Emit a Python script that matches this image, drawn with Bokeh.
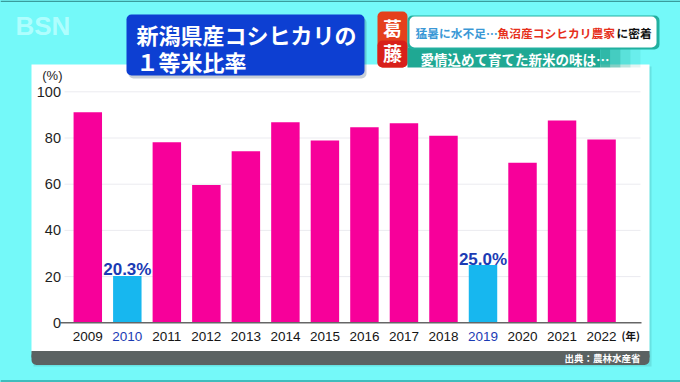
from bokeh.plotting import figure
from bokeh.models import Range1d, ColumnDataSource, Quad
from bokeh.core.properties import value
from bokeh.embed import file_html
from bokeh.resources import INLINE

# ---------------- data ----------------
years = [2009, 2010, 2011, 2012, 2013, 2014, 2015, 2016, 2017, 2018, 2019, 2020, 2021, 2022]
ratios = [91.2, 20.3, 78.2, 59.6, 74.3, 86.8, 78.9, 84.7, 86.4, 81.0, 25.0, 69.3, 87.6, 79.4]
highlight_years = [2010, 2019]
highlight_labels = ["20.3%", "25.0%"]
y_ticks = [0, 20, 40, 60, 80, 100]
y_tick_labels = ["0", "20", "40", "60", "80", "100"]
year_labels = [str(y) for y in years]

title_lines = ["新潟県産コシヒカリの", "１等米比率"]
tag_chars = ["葛", "藤"]
headline_parts = ["猛暑に水不足…", "魚沼産コシヒカリ農家", "に密着"]
subline = "愛情込めて育てた新米の味は…"
source_text = "出典：農林水産省"

# ---------------- styles ----------------
CYAN = "#74f9f9"
MAGENTA = "#f7009a"
SKY = "#17b7ef"
HL_TEXT = "#1b3bb4"
JP = value("Noto Sans CJK JP")
LAT = value("Liberation Sans")

W, H = 680, 382
OFF = 0
X_PITCH = 39.52
X_2009 = 87.3
Y_SCALE = 2.31
Y_ZERO = 322.3

x_start = 2009 - (X_2009 - OFF) / X_PITCH
x_end = x_start + W / X_PITCH
y_end = (Y_ZERO - OFF) / Y_SCALE
y_start = y_end - H / Y_SCALE


def dx(X):
    return x_start + (X - OFF) / X_PITCH


def dy(Y):
    return y_end - (Y - OFF) / Y_SCALE


p = figure(width=W, height=H, x_range=Range1d(x_start, x_end), y_range=Range1d(y_start, y_end),
           output_backend="svg", toolbar_location=None, min_border=0,
           x_axis_location=None, y_axis_location=None,
           background_fill_color=CYAN, border_fill_color=CYAN, outline_line_color=None)
for g in p.grid:
    g.visible = False

rad = {"border_radius": 5} if "border_radius" in Quad.properties() else {}

# top & bottom teal lines
p.quad(left=[dx(0)], right=[dx(680)], top=[dy(0)], bottom=[dy(1.5)], fill_color="#3a9c9c", line_color=None)
p.quad(left=[dx(0)], right=[dx(680)], top=[dy(379.5)], bottom=[dy(382)], fill_color="#3fbdbd", line_color=None)

# white panel with light shadow
p.quad(left=[dx(33)], right=[dx(651)], top=[dy(66)], bottom=[dy(366)], fill_color="#40a0a0", fill_alpha=0.25, line_color=None)
p.quad(left=[dx(31)], right=[dx(649)], top=[dy(64)], bottom=[dy(351)], fill_color="white", line_color=None)
# gray strip
p.quad(left=[dx(31)], right=[dx(649)], top=[dy(350.5)], bottom=[dy(364.5)], fill_color="#5b6262", line_color=None, **rad)
p.quad(left=[dx(31)], right=[dx(649)], top=[dy(350.5)], bottom=[dy(357)], fill_color="#5b6262", line_color=None)

# gridlines
p.segment(x0=dx(64), x1=dx(640), y0=y_ticks[1:], y1=y_ticks[1:], line_color="#ebebf0", line_width=1)

# bars
colors = [SKY if y in highlight_years else MAGENTA for y in years]
src = ColumnDataSource(dict(year=years, ratio=ratios, color=colors))
p.vbar(x="year", top="ratio", bottom=0, width=0.72, source=src, fill_color="color", line_color=None)

# x axis line
p.segment(x0=[dx(60)], x1=[dx(641)], y0=[0], y1=[0], line_color="#666666", line_width=1.5)

# y tick labels
p.text(x=dx(60.5), y=y_ticks, text=y_tick_labels, text_align="right", text_baseline="middle",
       text_font=LAT, text_font_size="14.5px", text_color="#1e1e1e")
p.text(x=[dx(62)], y=[dy(75)], text=["(%)"], text_align="right", text_baseline="middle",
       text_font=LAT, text_font_size="13px", text_color="#1e1e1e")

# x tick labels
year_colors = [HL_TEXT if y in highlight_years else "#151515" for y in years]
p.text(x=years, y=0, text=year_labels, text_align="center", text_baseline="middle", y_offset=14,
       text_font=LAT, text_font_size="13.5px", text_color=year_colors)
p.text(x=[dx(621)], y=[0], text=["(年)"], text_align="left", text_baseline="middle", y_offset=13,
       text_font=JP, text_font_size="10.5px", text_font_style="bold", text_color="#151515")

# value labels
hl_vals = [ratios[years.index(y)] for y in highlight_years]
p.text(x=highlight_years, y=hl_vals, text=highlight_labels, text_align="center", text_baseline="alphabetic",
       y_offset=-6, text_font=LAT, text_font_size="17px", text_font_style="bold", text_color=HL_TEXT)

# source
p.text(x=[dx(640)], y=[dy(357.5)], text=[source_text], text_align="right", text_baseline="middle",
       text_font=JP, text_font_size="9.5px", text_font_style="bold", text_color="white")

# BSN logo
p.text(x=[dx(15)], y=[dy(25)], text=["BSN"], text_align="left", text_baseline="middle",
       text_font=LAT, text_font_size="26px", text_font_style="bold", text_color="#b8ffff", text_alpha=0.9)

# title box
p.quad(left=[dx(128)], right=[dx(366)], top=[dy(17)], bottom=[dy(78)], fill_color="#204060", fill_alpha=0.25, line_color=None, **rad)
p.quad(left=[dx(126)], right=[dx(364)], top=[dy(14)], bottom=[dy(75)], fill_color="#0d3fd2", line_color=None, **rad)
p.text(x=[dx(136), dx(136)], y=[dy(33), dy(60)], text=title_lines, text_align="left", text_baseline="middle",
       text_font=JP, text_font_size="22px", text_font_style="bold", text_color="white")

# red tag
p.quad(left=[dx(377)], right=[dx(407)], top=[dy(11)], bottom=[dy(67)], fill_color="#e4401c", line_color=None, **rad)
p.quad(left=[dx(377)], right=[dx(407)], top=[dy(40)], bottom=[dy(67)], fill_color="#d8201a", line_color=None, **rad)
p.text(x=[dx(392), dx(392)], y=[dy(27), dy(52)], text=tag_chars, text_align="center", text_baseline="middle",
       text_font=JP, text_font_size="19px", text_font_style="bold", text_color="white")

# teal sub band with fade
p.quad(left=[dx(407)], right=[dx(600)], top=[dy(47)], bottom=[dy(67)], fill_color="#1fa893", line_color=None)
for i, a in enumerate([0.8, 0.55, 0.3, 0.12]):
    p.quad(left=[dx(600 + i * 10)], right=[dx(610 + i * 10)], top=[dy(47)], bottom=[dy(67)],
           fill_color="#1fa893", fill_alpha=a, line_color=None)
p.text(x=[dx(420)], y=[dy(58)], text=[subline], text_align="left", text_baseline="middle",
       text_font=JP, text_font_size="13.5px", text_font_style="bold", text_color="white")

# white headline banner
p.quad(left=[dx(407)], right=[dx(659)], top=[dy(15)], bottom=[dy(49)], fill_color="#22b0a0", line_color=None, **rad)
p.quad(left=[dx(409)], right=[dx(656)], top=[dy(16)], bottom=[dy(47)], fill_color="white", line_color=None, **rad)
head_colors = ["#3a98d6", "#e6301c", "#111111"]
head_x = [415, 497, 616]
p.text(x=[dx(v) for v in head_x], y=[dy(31.5)] * 3, text=headline_parts, text_align="left", text_baseline="middle",
       text_font=JP, text_font_size="11.75px", text_font_style="bold", text_color=head_colors)

html = file_html(p, INLINE)
html = html.replace("<head>", "<head><style>html, body { background: #74f9f9; }</style>", 1)
open("out.html", "w").write(html)
